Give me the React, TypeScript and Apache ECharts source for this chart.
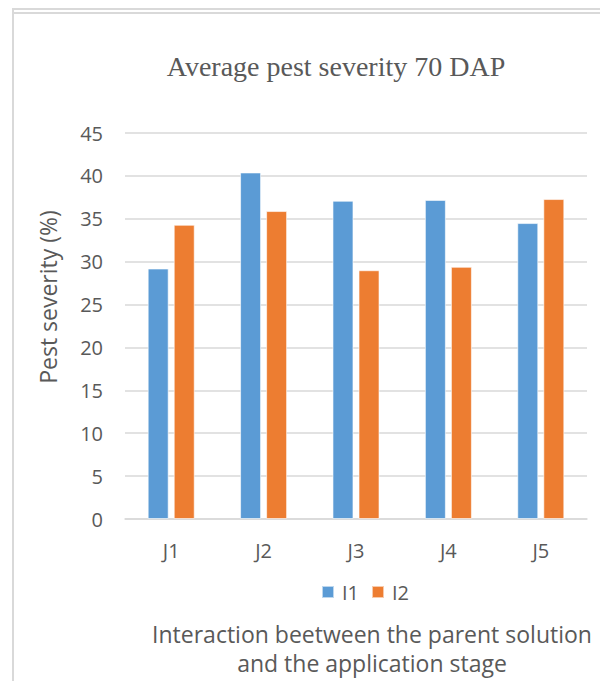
import React, { useEffect, useRef } from "react";
import * as echarts from "echarts";

const categories = ["J1", "J2", "J3", "J4", "J5"];
const seriesNames = ["I1", "I2"];
const i1Values = [29.2, 40.4, 37.1, 37.2, 34.5];
const i2Values = [34.3, 35.9, 29.0, 29.4, 37.3];
const yTicks = { min: 0, max: 45, interval: 5 };

const titleText = "Average pest severity 70 DAP";
const yAxisTitle = "Pest severity (%)";
const xAxisTitle = ["Interaction beetween the parent solution", "and the application stage"];

const BLUE = "#5B9BD5";
const ORANGE = "#ED7D31";
const TEXT = "#595959";
const GRID = "#D9D9D9";
const SANS = "'Open Sans', 'Noto Sans', sans-serif";

export default function App() {
  const ref = useRef<HTMLDivElement>(null);

  useEffect(() => {
    if (!ref.current) return;
    const chart = echarts.init(ref.current, undefined, { renderer: "svg" });
    chart.setOption({
      animation: false,
      backgroundColor: "#ffffff",
      textStyle: { fontFamily: SANS, color: TEXT },
      title: {
        text: titleText,
        left: 331,
        top: 47,
        textAlign: "center",
        textStyle: {
          fontFamily: "'Liberation Serif', 'Times New Roman', serif",
          fontWeight: "normal",
          fontSize: 28,
          color: TEXT,
        },
      },
      grid: { left: 125, right: 13, top: 133, bottom: 162 },
      legend: {
        data: seriesNames,
        left: 316,
        top: 577,
        itemWidth: 12,
        itemHeight: 12,
        itemGap: 12,
        icon: "rect",
        textStyle: { fontFamily: SANS, fontSize: 20, color: TEXT, padding: [0, 0, 0, 3] },
      },
      xAxis: {
        type: "category",
        data: categories,
        axisLine: { show: true, lineStyle: { color: GRID, width: 1.5 } },
        axisTick: { show: false },
        axisLabel: { fontFamily: SANS, fontSize: 20, color: TEXT, margin: 21 },
      },
      yAxis: {
        type: "value",
        min: yTicks.min,
        max: yTicks.max,
        interval: yTicks.interval,
        axisLine: { show: false },
        axisTick: { show: false },
        axisLabel: { fontFamily: SANS, fontSize: 20, color: TEXT, margin: 22 },
        splitLine: { lineStyle: { color: GRID, width: 1.5 } },
      },
      series: [
        {
          name: seriesNames[0],
          type: "bar",
          data: i1Values,
          barWidth: 21,
          barGap: "24%",
          itemStyle: { color: BLUE, borderColor: "rgba(255,255,255,0.6)", borderWidth: 1 },
        },
        {
          name: seriesNames[1],
          type: "bar",
          data: i2Values,
          barWidth: 21,
          barGap: "24%",
          itemStyle: { color: ORANGE, borderColor: "rgba(255,255,255,0.6)", borderWidth: 1 },
        },
      ],
      graphic: [
        // chart frame
        { type: "rect", shape: { x: 12, y: 8, width: 588, height: 2 }, style: { fill: GRID }, silent: true },
        { type: "rect", shape: { x: 14, y: 12, width: 586, height: 2 }, style: { fill: GRID }, silent: true },
        { type: "rect", shape: { x: 12, y: 8, width: 2, height: 673 }, style: { fill: GRID }, silent: true },
        // y axis title, rotated
        {
          type: "text",
          x: 48,
          y: 297,
          rotation: Math.PI / 2,
          style: {
            text: yAxisTitle,
            fontFamily: SANS,
            fontSize: 23,
            fill: TEXT,
            textAlign: "center",
            textVerticalAlign: "middle",
          },
        },
        // x axis title, two centred lines
        {
          type: "text",
          x: 372,
          y: 634,
          style: {
            text: xAxisTitle[0],
            fontFamily: SANS,
            fontSize: 23,
            fill: TEXT,
            textAlign: "center",
            textVerticalAlign: "middle",
          },
        },
        {
          type: "text",
          x: 372,
          y: 663,
          style: {
            text: xAxisTitle[1],
            fontFamily: SANS,
            fontSize: 23,
            fill: TEXT,
            textAlign: "center",
            textVerticalAlign: "middle",
          },
        },
      ],
    });
    return () => chart.dispose();
  }, []);

  return (
    <div
      ref={ref}
      style={{ position: "fixed", left: 0, top: 0, width: 600, height: 681 }}
    />
  );
}
